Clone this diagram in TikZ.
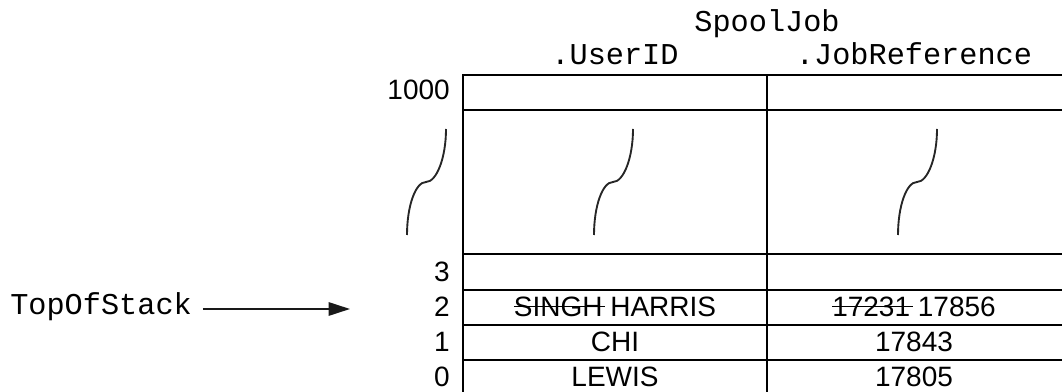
\documentclass[tikz,border=0pt]{standalone}
\usepackage{fontspec}
\setmainfont{Liberation Sans}
\setmonofont{Liberation Mono}
\usepackage{tikz}
\usetikzlibrary{arrows.meta}
\newsavebox{\strikebox}
\newcommand{\struck}[1]{\sbox{\strikebox}{#1}\rlap{\rule[0.34em]{\dimexpr\wd\strikebox+2pt}{1pt}}\usebox{\strikebox}}

\begin{document}
\begin{tikzpicture}[x=0.75pt,y=0.75pt,>={Triangle[length=16pt,width=10pt]}]
\tikzstyle{grid}=[line width=1.6pt]
\tikzstyle{cell}=[inner sep=0pt,anchor=base,font=\fontsize{21}{25}\selectfont]
\tikzstyle{index}=[inner sep=0pt,anchor=base east,font=\fontsize{21}{25}\selectfont]
\tikzstyle{field}=[inner sep=0pt,anchor=base,font=\fontsize{22.7}{27}\selectfont\ttfamily]
\tikzstyle{squiggle}=[line width=1.4pt,black!85]

        \useasboundingbox (0,0) rectangle (1062,392);

        % the array, open at the bottom and right
        \draw[grid] (463,0) -- (463,317) -- (1062,317);
        \draw[grid] (767,0) -- (767,317);
        \draw[grid] (463,282) -- (1062,282);
        \draw[grid] (463,138) -- (1062,138);
        \draw[grid] (463,102) -- (1062,102);
        \draw[grid] (463,67)  -- (1062,67);
        \draw[grid] (463,32)  -- (1062,32);

        % gaps between 1000 and 3
        \draw[squiggle] (407,157) .. controls +(0,29) and +(-10.5,0) .. ++(19,53) .. controls +(10.5,0) and +(0,-29) .. ++(20,53);
        \draw[squiggle] (594,157) .. controls +(0,29) and +(-10.5,0) .. ++(19,53) .. controls +(10.5,0) and +(0,-29) .. ++(20,53);
        \draw[squiggle] (898,157) .. controls +(0,29) and +(-10.5,0) .. ++(19,53) .. controls +(10.5,0) and +(0,-29) .. ++(20,53);

        \node[field]  (spool)  at (767,360) {SpoolJob};
        \node[field]  (userid) at (615,327) {.UserID};
        \node[field]  (jobref) at (914,327) {.JobReference};

        \node[index]  (i1000)  at (450,292) {1000};
        \node[index]  (i3)     at (450,110) {3};
        \node[index]  (i2)     at (450,75)  {2};
        \node[index]  (i1)     at (450,40)  {1};
        \node[index]  (i0)     at (450,5)   {0};

        \node[cell]   (u2)     at (615,75)  {\struck{SINGH} HARRIS};
        \node[cell]   (j2)     at (914,75)  {\struck{17231} 17856};
        \node[cell]   (u1)     at (615,40)  {CHI};
        \node[cell]   (j1)     at (914,40)  {17843};
        \node[cell]   (u0)     at (615,5)   {LEWIS};
        \node[cell]   (j0)     at (914,5)   {17805};

        \node[field,anchor=base west] (tos) at (10,77) {TopOfStack};
        \coordinate (tip) at (350,83);
        \draw[->,line width=1.4pt,black!90,shorten <=8pt] (tos.east |- tip) -- (tip);

\end{tikzpicture}
\end{document}
